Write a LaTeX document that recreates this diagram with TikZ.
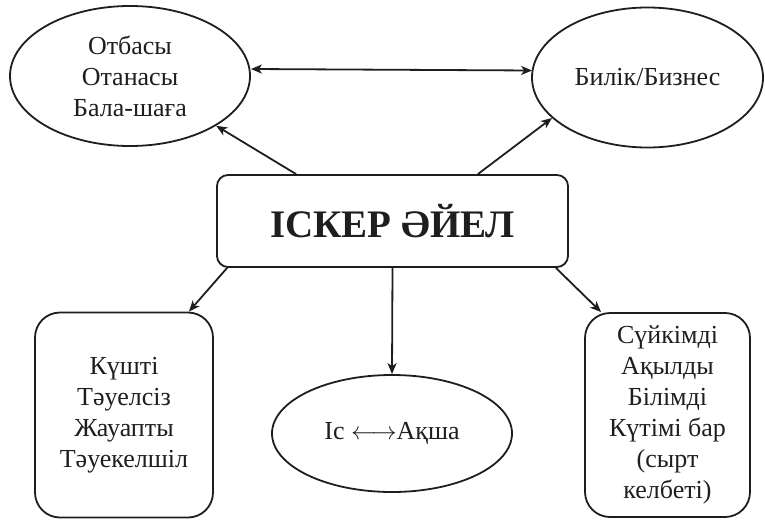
\documentclass[tikz,border=0pt]{standalone}
\usepackage{fontspec}
\setmainfont{Liberation Serif}
\usetikzlibrary{shapes.geometric,arrows.meta,calc}
\definecolor{ink}{HTML}{1E1E1E}
\tikzset{
  base/.style={draw=ink,line width=1.8pt,text=ink,align=center,inner sep=0pt,
    font=\fontsize{26}{31}\selectfont},
  oval/.style={base,ellipse},
  rbox/.style={base,rectangle,rounded corners=25pt},
  tip/.style={Stealth[length=11pt,width=9pt,inset=3pt]},
  arr/.style={draw=ink,line width=1.8pt,-{Stealth[length=11pt,width=9pt,inset=3pt]}},
  darr/.style={draw=ink,line width=1.8pt,{Stealth[length=11pt,width=9pt,inset=3pt]}-{Stealth[length=11pt,width=9pt,inset=3pt]}}
}
\begin{document}
\begin{tikzpicture}[x=1pt,y=-1pt]
\useasboundingbox (0,0) rectangle (765,519);
\node[oval,minimum width=240pt,minimum height=140pt] (lell) at (130,76) {Отбасы\\Отанасы\\Бала-шаға};
\node[oval,minimum width=231pt,minimum height=140pt] (rell) at (647.5,77.5) {Билік/Бизнес};
\node[base,rectangle,rounded corners=11pt,minimum width=351pt,minimum height=92pt,
  font=\fontsize{39}{44}\selectfont\bfseries] (box) at (392.5,221) {ІСКЕР ӘЙЕЛ};
\node[rbox,minimum width=178pt,minimum height=205pt] (bl) at (124,415) {Күшті\\Тәуелсіз\\Жауапты\\Тәуекелшіл};
\node[oval,minimum width=240pt,minimum height=117pt] (mell) at (392,433.5) {Іс $\longleftrightarrow$Ақша};
\node[rbox,minimum width=165pt,minimum height=204pt] (br) at (667.5,415) {Сүйкімді\\Ақылды\\Білімді\\Күтімі бар\\(сырт\\келбеті)};
\draw[darr] ([yshift=7pt]lell.east) -- ([yshift=7pt,xshift=1pt]rell.west);
\draw[arr] ([xshift=80pt]box.north west) -- (lell.-30);
\draw[arr] ([xshift=-91pt]box.north east) -- (rell.203);
\draw[arr] ([xshift=11pt]box.south west) -- ([xshift=-25pt]bl.north east);
\draw[arr] (box.south) -- (mell.north);
\draw[arr] ([xshift=-13pt]box.south east) -- ([xshift=17pt]br.north west);
\end{tikzpicture}
\end{document}
